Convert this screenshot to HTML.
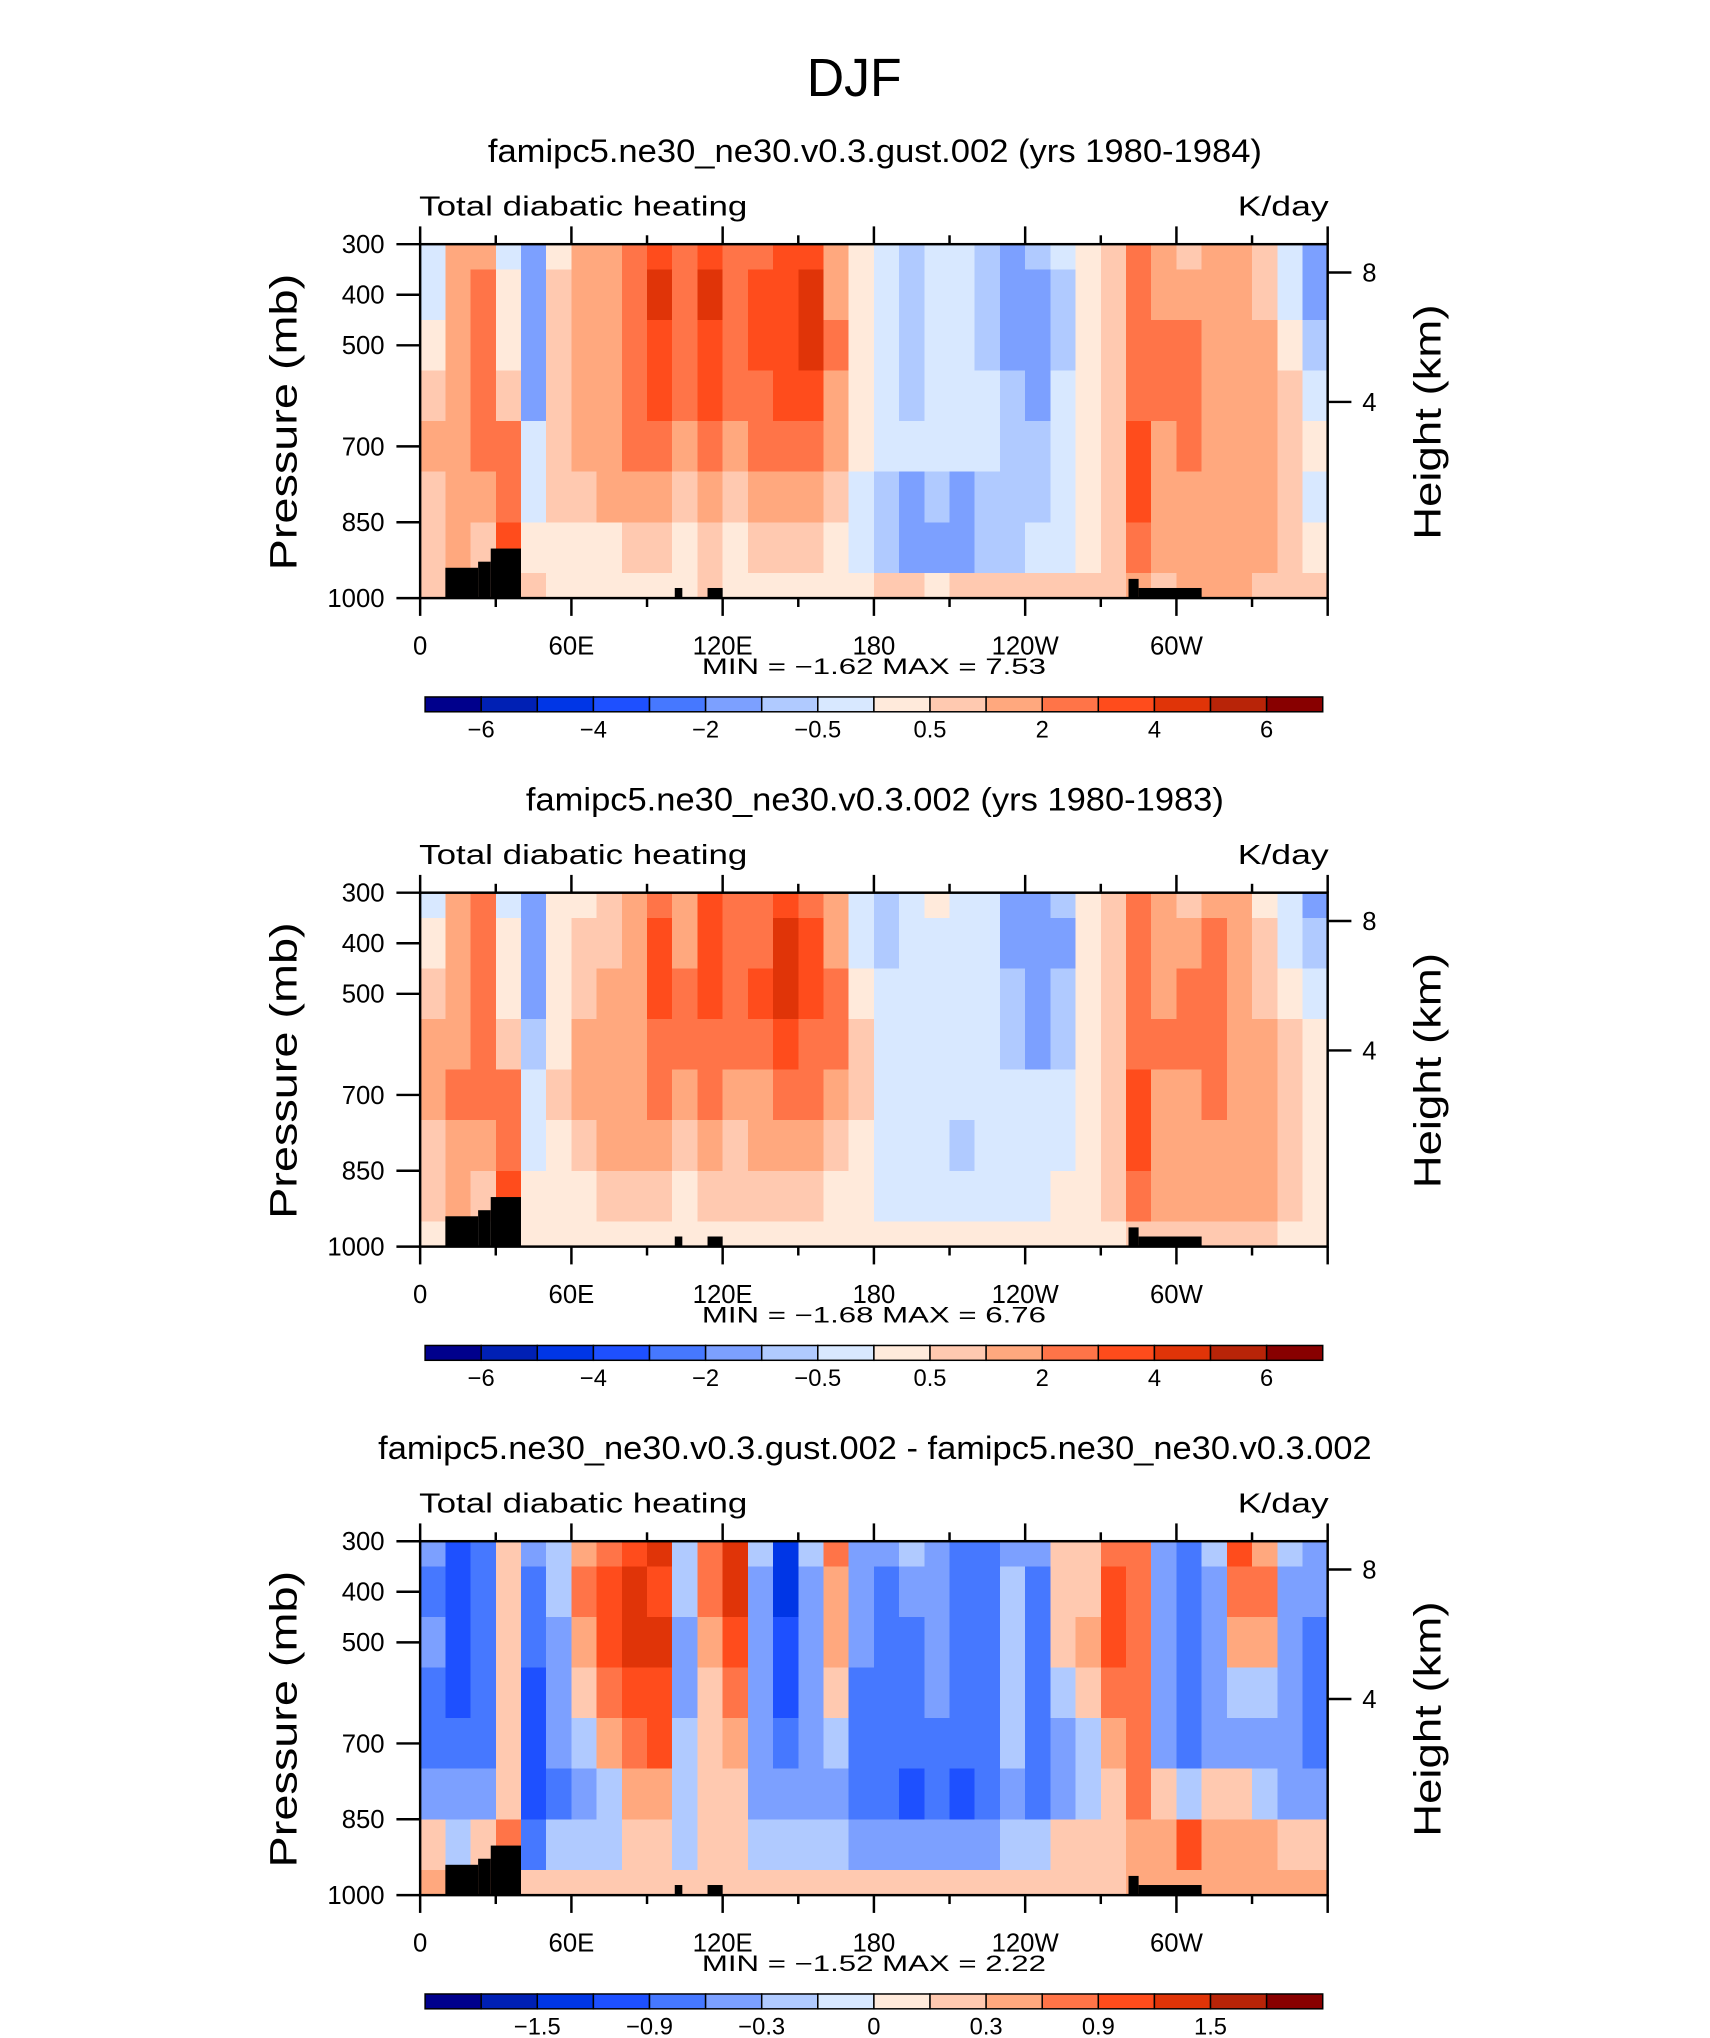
<!DOCTYPE html>
<html><head><meta charset="utf-8">
<style>
html,body{margin:0;padding:0;background:#fff;}
svg{display:block;font-family:"Liberation Sans",sans-serif;}
</style></head>
<body>
<svg id="fig" width="1710" height="2038" viewBox="0 0 1710 2038" xmlns="http://www.w3.org/2000/svg">
<g id="root" transform="scale(0.98859)">
<text x="864" y="97" font-size="54" text-anchor="middle" fill="#000" textLength="96" lengthAdjust="spacingAndGlyphs">DJF</text>
</g>
</svg>
<script>
// ---- data ----
const lons = [5,15,25,35,45,55,65,75,85,95,105,115,125,135,145,155,165,175,185,195,205,215,225,235,245,255,265,275,285,295,305,315,325,335,345,355];
const levs = [300,400,500,600,700,800,900,1000];
const xTickVals = [0,60,120,180,240,300];
const xTickLabels = ["0","60E","120E","180","120W","60W"];
const pTickVals = [300,400,500,700,850,1000];
const hTickLabels = ["8","4"];
const hTickPress = [356,612];
const levelsFull = [-6,-5,-4,-3,-2,-1,-0.5,0,0.5,1,2,3,4,5,6];
const levelsDiff = [-1.8,-1.5,-1.2,-0.9,-0.6,-0.3,-0.1,0,0.1,0.3,0.6,0.9,1.2,1.5,1.8];
const labelsFull = ["-6","-4","-2","-0.5","0.5","2","4","6"];
const labelsDiff = ["-1.5","-0.9","-0.3","0","0.3","0.9","1.5"];
const palette = ["#00008c","#0020b4","#0036e6","#1e50ff","#4678ff","#7ca0ff","#b0caff","#d8e8ff","#ffeadb","#ffc9b0","#ffa87e","#ff7448","#ff4c1c","#e03408","#b82408","#880000"];
const topo = [[10,23,940],[23,28,928],[28,40,902],[101,104,980],[114,120,980],[281,285,962],[285,310,980]];
const titles = ["famipc5.ne30_ne30.v0.3.gust.002 (yrs 1980-1984)","famipc5.ne30_ne30.v0.3.002 (yrs 1980-1983)","famipc5.ne30_ne30.v0.3.gust.002 - famipc5.ne30_ne30.v0.3.002"];
const minmax = [["-1.62","7.53"],["-1.68","6.76"],["-1.52","2.22"]];

const field1 = [
[-0.3,1.5,1.5,-0.3,-1.2,0.3,1.5,1.5,2.5,3.5,2,3.5,2.5,2.5,3.5,3,1.2,0.3,-0.3,-0.7,-0.3,-0.3,-0.7,-1.2,-0.7,-0.3,0.3,0.7,2,1.5,0.7,1.5,1.5,0.7,-0.3,-1.2],
[-0.3,1.5,2,0.3,-1.5,0.7,1.5,1.5,2.5,4,2,4,2.5,3,3.5,4,1.5,0.3,-0.3,-0.7,-0.3,-0.3,-0.7,-1.2,-1.2,-0.7,0.3,0.7,2,1.5,1.5,1.5,1.5,0.7,-0.3,-1.2],
[0.3,1.5,2.5,0.3,-1.5,0.7,1.5,1.5,2.5,3.5,2,3.5,2.5,3,3.5,4.5,2,0.3,-0.3,-0.7,-0.3,-0.3,-0.7,-1.2,-1.2,-0.7,0.3,0.7,2.5,2,2,1.5,1.5,1.5,0.3,-0.7],
[0.7,1.5,2.5,0.7,-1.2,0.7,1.5,1.5,2.5,3,2,3,2.5,2.5,3,3,1.5,0.3,-0.3,-0.7,-0.3,-0.3,-0.3,-0.7,-1.2,-0.3,0.3,0.7,2.5,2,2,1.5,1.5,1.5,0.7,-0.3],
[1.5,1.5,2,2,-0.3,0.7,1.5,1.5,2,2,1.5,2,1.5,2,2,2,1.5,0.3,-0.3,-0.3,-0.3,-0.3,-0.3,-0.7,-0.7,-0.3,0.3,0.7,3,1.5,2,1.5,1.5,1.5,0.7,0.3],
[0.7,1.5,1.5,2.5,-0.3,0.7,0.7,1.5,1.5,1.5,0.7,1.5,0.7,1.5,1.5,1.5,0.7,-0.3,-0.7,-1.2,-0.7,-1.2,-0.7,-0.7,-0.7,-0.3,0.3,0.7,3,1.5,1.5,1.5,1.5,1.5,0.7,-0.3],
[0.7,1.5,0.7,3,0.3,0.3,0.3,0.3,0.7,0.7,0.3,0.7,0.3,0.7,0.7,0.7,0.3,-0.3,-0.7,-1.5,-1.2,-1.2,-0.7,-0.7,-0.3,-0.3,0.3,0.7,2.5,1.5,1.5,1.5,1.5,1.2,0.7,0.3],
[0.7,0.7,0.7,2,0.7,0.3,0.3,0.3,0.3,0.3,0.3,0.7,0.3,0.3,0.3,0.3,0.3,0.3,0.7,0.7,0.3,0.7,0.7,0.7,0.7,0.7,0.7,0.7,1.5,0.7,1.5,1.5,1.5,0.7,0.7,0.7]];
const field2 = [
[-0.3,1.5,2,-0.3,-1.2,0.3,0.3,0.7,1.5,2,1.5,3,2,2,3.5,2.5,1.2,-0.3,-0.7,-0.3,0.3,-0.3,-0.3,-1.2,-1.5,-0.7,0.3,0.7,2,1.5,0.7,1.5,1.5,0.3,-0.3,-1.2],
[0.3,1.5,2.5,0.3,-1.5,0.3,0.7,0.7,1.5,3,1.5,3,2.5,2.5,4,3,1.5,-0.3,-0.7,-0.3,-0.3,-0.3,-0.3,-1.2,-1.5,-1.2,0.3,0.7,2,1.5,1.5,2,1.5,0.7,-0.3,-0.7],
[0.7,1.5,2.5,0.3,-1.2,0.3,0.7,1.5,1.5,3,2,3,2.5,3,4.5,3,2,0.3,-0.3,-0.3,-0.3,-0.3,-0.3,-0.7,-1.5,-0.7,0.3,0.7,2.5,1.5,2,2.5,1.5,0.7,0.3,-0.3],
[1.5,1.5,2.5,0.7,-0.7,0.3,1.5,1.5,1.5,2,2,2.5,2,2.5,3,2.5,2,0.7,-0.3,-0.3,-0.3,-0.3,-0.3,-0.7,-1.2,-0.7,0.3,0.7,2.5,2,2,2.5,1.5,1.5,0.7,0.3],
[1.5,2,2,2,-0.3,0.7,1.5,1.5,1.5,2,1.5,2,1.5,1.5,2,2,1.5,0.7,-0.3,-0.3,-0.3,-0.3,-0.3,-0.3,-0.3,-0.3,0.3,0.7,3,1.5,1.5,2,1.5,1.5,0.7,0.3],
[0.7,1.5,1.5,2.5,-0.3,0.3,0.7,1.5,1.5,1.5,0.7,1.5,0.7,1.5,1.5,1.5,0.7,0.3,-0.3,-0.3,-0.3,-0.7,-0.3,-0.3,-0.3,-0.3,0.3,0.7,3,1.5,1.5,1.5,1.5,1.5,0.7,0.3],
[0.7,1.5,0.7,3,0.3,0.3,0.3,0.7,0.7,0.7,0.3,0.7,0.7,0.7,0.7,0.7,0.3,0.3,-0.3,-0.3,-0.3,-0.3,-0.3,-0.3,-0.3,0.3,0.3,0.7,2.5,1.5,1.5,1.5,1.5,1.2,0.7,0.3],
[0.3,0.3,0.3,1.5,0.3,0.3,0.3,0.3,0.3,0.3,0.3,0.3,0.3,0.3,0.3,0.3,0.3,0.3,0.3,0.3,0.3,0.3,0.3,0.3,0.3,0.3,0.3,0.3,0.7,0.7,0.7,0.7,0.7,0.7,0.3,0.3]];
const field3 = [
[-0.4,-1.0,-0.7,0.2,-0.4,-0.2,0.4,0.7,1.0,1.3,-0.2,0.8,1.2,-0.3,-1.3,-0.2,0.7,-0.4,-0.5,-0.2,-0.5,-0.8,-0.7,-0.4,-0.5,0.2,0.2,0.7,0.7,-0.5,-0.8,-0.2,0.9,0.5,-0.2,-0.5],
[-0.7,-1.2,-0.9,0.2,-0.7,-0.2,0.7,0.9,1.2,1.0,-0.2,0.7,1.2,-0.4,-1.4,-0.4,0.5,-0.4,-0.7,-0.4,-0.5,-0.8,-0.9,-0.2,-0.8,0.2,0.2,0.9,0.7,-0.5,-0.9,-0.4,0.8,0.7,-0.4,-0.4],
[-0.5,-1.2,-0.9,0.2,-0.7,-0.4,0.5,0.9,1.2,1.2,-0.4,0.4,0.9,-0.4,-1.2,-0.4,0.4,-0.5,-0.7,-0.7,-0.5,-0.8,-0.7,-0.2,-0.9,0.2,0.4,0.9,0.7,-0.4,-0.9,-0.5,0.5,0.4,-0.4,-0.7],
[-0.7,-1.0,-0.9,0.2,-1.0,-0.4,0.2,0.7,0.9,1.0,-0.4,0.2,0.7,-0.4,-1.0,-0.4,0.2,-0.7,-0.9,-0.9,-0.5,-0.8,-0.7,-0.2,-0.9,-0.2,0.2,0.7,0.7,-0.5,-0.8,-0.5,-0.2,-0.2,-0.4,-0.8],
[-0.7,-0.9,-0.7,0.2,-1.2,-0.5,-0.2,0.4,0.7,0.9,-0.2,0.2,0.4,-0.4,-0.7,-0.4,-0.2,-0.7,-0.9,-0.9,-0.7,-0.9,-0.7,-0.2,-0.9,-0.4,-0.2,0.4,0.7,-0.4,-0.7,-0.4,-0.4,-0.4,-0.5,-0.7],
[-0.4,-0.5,-0.5,0.2,-1.2,-0.7,-0.4,-0.2,0.4,0.5,-0.2,0.2,0.2,-0.4,-0.5,-0.4,-0.4,-0.7,-0.9,-1.2,-0.9,-1.2,-0.9,-0.4,-0.7,-0.4,-0.2,0.2,0.7,0.2,-0.2,0.2,0.2,-0.2,-0.4,-0.5],
[0.2,-0.2,0.2,0.7,-0.7,-0.2,-0.2,-0.2,0.2,0.2,-0.2,0.2,0.2,-0.2,-0.2,-0.2,-0.2,-0.4,-0.4,-0.5,-0.5,-0.4,-0.4,-0.2,-0.2,0.2,0.2,0.2,0.5,0.4,1.0,0.4,0.4,0.4,0.2,0.2],
[0.4,0.4,0.4,0.7,0.2,0.2,0.2,0.2,0.2,0.2,0.2,0.2,0.2,0.2,0.2,0.2,0.2,0.2,0.2,0.2,0.2,0.2,0.2,0.2,0.2,0.2,0.2,0.2,0.4,0.4,0.4,0.4,0.4,0.4,0.4,0.4]];

const fields = [field1, field2, field3];
const levelSets = [levelsFull, levelsFull, levelsDiff];
const labelSets = [labelsFull, labelsFull, labelsDiff];

// ---- rendering ----
const NS = "http://www.w3.org/2000/svg";
const svg = document.getElementById('root');
const X0 = 425, X1 = 1343, Y0 = 247, Y1 = 605;
function mk(tag, attrs, parent){ const e=document.createElementNS(NS,tag); for(const k in attrs) e.setAttribute(k,attrs[k]); (parent||svg).appendChild(e); return e; }
function xs(lon){ return X0 + (lon/360)*(X1-X0); }
function colorFor(v, lv){ let i=0; while(i<lv.length && v>=lv[i]) i++; return palette[i]; }

for(let p=0;p<3;p++){
  const dy = [0,656,1312][p];
  function ys(pr){ return Y0+dy + (pr-300)/700*(Y1-Y0); }
  const g = mk('g',{});
  
  

  const t = mk('text',{x:885,y:164+dy,'font-size':33,'text-anchor':'middle',fill:'#000'},g);
  
  
  t.setAttribute('textLength', p===2?1005:(p===0?783:706));
  t.setAttribute('lengthAdjust','spacingAndGlyphs');
  t.textContent = titles[p];

  const lt = mk('text',{x:424,y:218+dy,'font-size':28,fill:'#000',textLength:332,lengthAdjust:'spacingAndGlyphs'},g);
  
  
  lt.textContent = 'Total diabatic heating';
  const ut = mk('text',{x:1344,y:218+dy,'font-size':28,fill:'#000','text-anchor':'end',textLength:92,lengthAdjust:'spacingAndGlyphs'},g);
  
  
  ut.textContent = 'K/day';

  const cells = mk('g',{'shape-rendering':'crispEdges'},g);
  
  
  const fld = fields[p], lv = levelSets[p];
  for(let r=0;r<levs.length;r++){
    const pa = Math.max(300,levs[r]-50), pb = Math.min(1000,levs[r]+50);
    for(let c=0;c<lons.length;c++){
      const rc = mk('rect',{x:xs(lons[c]-5),y:ys(pa),width:xs(lons[c]+5)-xs(lons[c]-5)+0.6,height:ys(pb)-ys(pa)+0.6,fill:colorFor(fld[r][c],lv)},cells);
      
      
    }
  }
  for(const tb of topo){
    const rr = mk('rect',{x:xs(tb[0]),y:ys(tb[2]),width:xs(tb[1])-xs(tb[0]),height:ys(1000)-ys(tb[2]),fill:'#000'},g);
    
    
  }
  const fr = mk('rect',{x:X0,y:ys(300),width:X1-X0,height:ys(1000)-ys(300),fill:'none',stroke:'#000','stroke-width':2.5},g);
  
  

  for(let lon=0;lon<=360;lon+=30){
    const major = lon%60===0, L = major?18:9;
    mk('line',{x1:xs(lon),x2:xs(lon),y1:ys(300),y2:ys(300)-L,stroke:'#000','stroke-width':2.5},g);
    mk('line',{x1:xs(lon),x2:xs(lon),y1:ys(1000),y2:ys(1000)+L,stroke:'#000','stroke-width':2.5},g);
  }
  xTickVals.forEach((v,i)=>{
    const tx = mk('text',{x:xs(v),y:662+dy,'font-size':26,'text-anchor':'middle',fill:'#000'},g);
    
    
    tx.textContent = xTickLabels[i];
  });
  pTickVals.forEach(v=>{
    mk('line',{x1:X0-24,x2:X0,y1:ys(v),y2:ys(v),stroke:'#000','stroke-width':2.5},g);
    const tx = mk('text',{x:389,y:ys(v)+9,'font-size':26,'text-anchor':'end',fill:'#000'},g);
    
    
    tx.textContent = String(v);
  });
  hTickPress.forEach((v,i)=>{
    mk('line',{x1:X1,x2:X1+24,y1:ys(v),y2:ys(v),stroke:'#000','stroke-width':2.5},g);
    const tx = mk('text',{x:1378,y:ys(v)+9,'font-size':26,fill:'#000'},g);
    
    
    tx.textContent = hTickLabels[i];
  });
  const yl = mk('text',{x:0,y:0,'font-size':38,'text-anchor':'middle',fill:'#000',transform:`translate(300,${427+dy}) rotate(-90)`,textLength:300,lengthAdjust:'spacingAndGlyphs'},g);
  
  
  yl.textContent = 'Pressure  (mb)';
  const yr = mk('text',{x:0,y:0,'font-size':38,'text-anchor':'middle',fill:'#000',transform:`translate(1457,${427+dy}) rotate(-90)`,textLength:238,lengthAdjust:'spacingAndGlyphs'},g);
  
  
  yr.textContent = 'Height  (km)';

  const mm = mk('text',{x:710,y:682+dy,'font-size':22,fill:'#000','xml:space':'preserve',lengthAdjust:'spacingAndGlyphs',textLength:'348'},g);
  
  
  mm.textContent = 'MIN =   '+minmax[p][0].replace('-','\u2212')+'   MAX =    '+minmax[p][1];

  const cb = mk('g',{},g);
  
  
  const cx0=430, cx1=1338, cw=(cx1-cx0)/16, cy=705+dy;
  palette.forEach((col,i)=>{
    const b = mk('rect',{x:cx0+i*cw,y:cy,width:cw,height:15,fill:col,stroke:'#000','stroke-width':1.5},cb);
    
    
  });
  const labs = labelSets[p];
  labs.forEach((lab,i)=>{
    const bi = p===2 ? 2+2*i : 1+2*i;
    const tx = mk('text',{x:cx0+bi*cw,y:746+dy,'font-size':24,'text-anchor':'middle',fill:'#000'},cb);
    
    
    tx.textContent = lab.replace('-','\u2212');
  });
}
</script>
</body></html>
